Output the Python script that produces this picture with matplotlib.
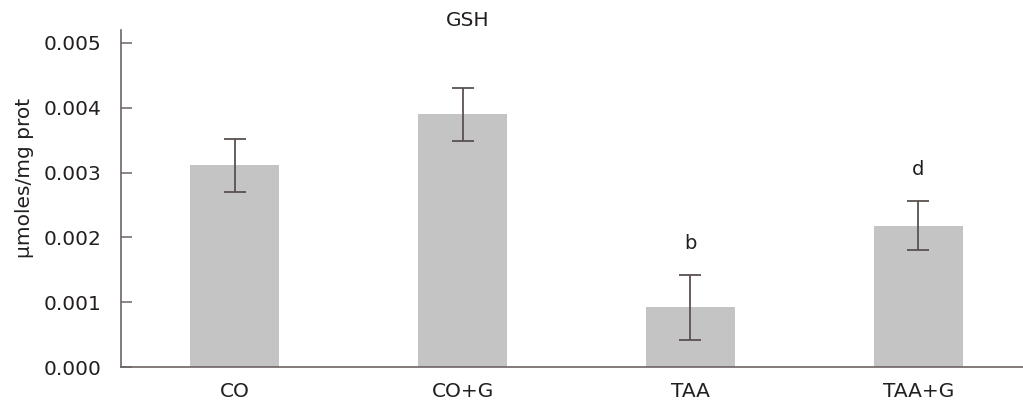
import matplotlib
matplotlib.use("Agg")
import matplotlib.pyplot as plt

categories = ["CO", "CO+G", "TAA", "TAA+G"]
values = [0.00311, 0.00390, 0.00092, 0.00218]
errors = [0.00041, 0.00041, 0.00050, 0.00038]
annotations = ["", "", "b", "d"]
yticks = [0.000, 0.001, 0.002, 0.003, 0.004, 0.005]

plt.rcParams['font.family'] = ['DejaVu Sans']
text_color = "#231f20"
axis_color = "#6e6464"

fig = plt.figure(figsize=(10.23, 4.11), dpi=100)
ax = fig.add_axes([121/1023, 1 - 367/411, 1 - 121/1023, (367 - 30)/411])

x = list(range(len(categories)))
ax.bar(x, values, width=0.39, color="#c4c4c4", zorder=2)
ax.errorbar(x, values, yerr=errors, fmt="none", ecolor="#5a5050",
            elinewidth=1.3, capsize=8, capthick=1.3, zorder=3)

for xi, v, e, a in zip(x, values, errors, annotations):
    if a:
        ax.text(xi, v + e + 0.00048, a, ha="center", va="center",
                fontsize=14, color=text_color)

ax.set_xlim(-0.5, 3.46)
ax.set_ylim(0, 0.0052)
ax.set_yticks(yticks)
ax.set_yticklabels([f"{t:.3f}" for t in yticks])
ax.set_xticks(x)
ax.set_xticklabels(categories)

for s in ["top", "right"]:
    ax.spines[s].set_visible(False)
for s in ["left", "bottom"]:
    ax.spines[s].set_color(axis_color)
    ax.spines[s].set_linewidth(1.2)

ax.tick_params(axis="y", direction="in", length=8, width=1.1, color=axis_color,
               labelsize=14.5, labelcolor=text_color, pad=14)
ax.tick_params(axis="x", length=0, labelsize=14.5, labelcolor=text_color, pad=11)

ax.set_ylabel("μmoles/mg prot", fontsize=14.5, color=text_color)
ax.yaxis.set_label_coords(-87/902, (367 - 178)/337)
fig.text(468/1023, 1 - 21/411, "GSH", ha="center", va="center",
         fontsize=14.5, color=text_color)

fig.savefig("out.png", dpi=100)
